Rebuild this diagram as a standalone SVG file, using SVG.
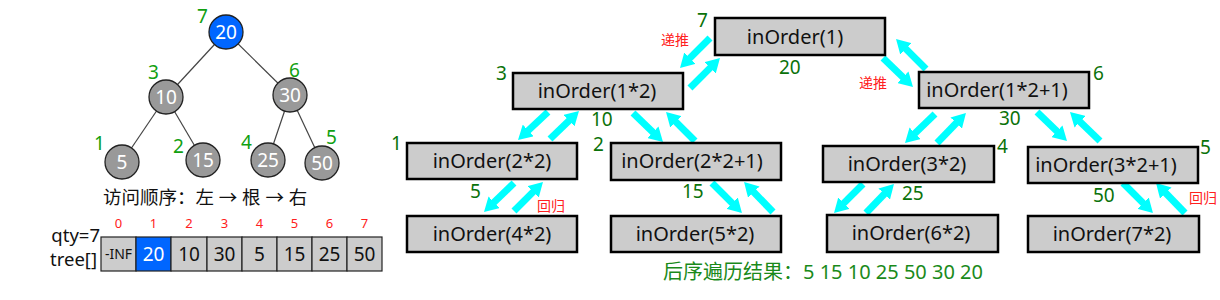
<svg xmlns="http://www.w3.org/2000/svg" width="1220" height="300" viewBox="0 0 1220 300">
<style>
text{font-family:"Noto Sans","Noto Sans CJK SC",sans-serif}
.edge{stroke:#444;stroke-width:1.2}
.cn{fill:#999;stroke:#222;stroke-width:1.3}
.ct{fill:#fff;font-size:19px;text-anchor:middle}
.lg{fill:#11a011;font-size:19px}
.dg{fill:#0a720a;font-size:19px}
.red{fill:#ff2020;font-size:14px}
.box{fill:#ccc;stroke:#000;stroke-width:2.5}
.bt{fill:#111;font-size:20px;text-anchor:middle}
.cell{fill:#ccc;stroke:#222;stroke-width:1.2}
.cv{fill:#111;font-size:19px;text-anchor:middle}
.idx{fill:#ff2020;font-size:13px;text-anchor:middle}
.arr{stroke:#00ffff;stroke-width:7;marker-end:url(#ah)}
</style>
<defs>
<marker id="ah" markerUnits="userSpaceOnUse" viewBox="0 0 14 16" markerWidth="14" markerHeight="16" refX="4" refY="8" orient="auto">
<path d="M0,0 L14,8 L0,16 z" fill="#00ffff"/>
</marker>
</defs>
<g id="tree-edges">
<line class="edge" x1="226" y1="32" x2="166" y2="97"/>
<line class="edge" x1="226" y1="32" x2="290" y2="95"/>
<line class="edge" x1="166" y1="97" x2="122" y2="162"/>
<line class="edge" x1="166" y1="97" x2="203" y2="160"/>
<line class="edge" x1="290" y1="95" x2="268" y2="160"/>
<line class="edge" x1="290" y1="95" x2="322" y2="163"/>
</g>
<g id="t20"><circle cx="226" cy="32" r="17" fill="#0066ff" stroke="#222" stroke-width="1.3"/><text class="ct" x="226" y="39">20</text><text class="lg" x="197" y="23">7</text></g>
<g id="t10"><circle class="cn" cx="166" cy="97" r="17"/><text class="ct" x="166" y="104">10</text><text class="lg" x="148" y="79">3</text></g>
<g id="t30"><circle class="cn" cx="290" cy="95" r="17"/><text class="ct" x="290" y="102">30</text><text class="lg" x="289" y="77">6</text></g>
<g id="t5"><circle class="cn" cx="122" cy="162" r="17"/><text class="ct" x="122" y="169">5</text><text class="lg" x="94" y="150">1</text></g>
<g id="t15"><circle class="cn" cx="203" cy="160" r="17"/><text class="ct" x="203" y="167">15</text><text class="lg" x="173" y="153">2</text></g>
<g id="t25"><circle class="cn" cx="268" cy="160" r="17"/><text class="ct" x="268" y="167">25</text><text class="lg" x="241" y="149">4</text></g>
<g id="t50"><circle class="cn" cx="322" cy="163" r="17"/><text class="ct" x="322" y="170">50</text><text class="lg" x="326" y="144">5</text></g>
<text x="103" y="204" style="font-size:18.5px;fill:#111">访问顺序：左 → 根 → 右</text>
<g id="array">
<text x="100" y="242" style="font-size:18.5px;fill:#111;text-anchor:end">qty=7</text>
<text x="97" y="266" style="font-size:18.5px;fill:#111;text-anchor:end">tree[]</text>
<rect class="cell" x="101" y="237" width="35" height="34"/>
<rect x="136" y="237" width="35" height="34" fill="#0066ff" stroke="#222" stroke-width="1.2"/>
<rect class="cell" x="171" y="237" width="36" height="34"/>
<rect class="cell" x="207" y="237" width="35" height="34"/>
<rect class="cell" x="242" y="237" width="35" height="34"/>
<rect class="cell" x="277" y="237" width="35" height="34"/>
<rect class="cell" x="312" y="237" width="35" height="34"/>
<rect class="cell" x="347" y="237" width="35" height="34"/>
<text x="118.5" y="259" style="font-size:14px;fill:#111;text-anchor:middle">-INF</text>
<text class="cv" x="153.5" y="261" style="fill:#fff">20</text>
<text class="cv" x="189" y="261">10</text>
<text class="cv" x="224.5" y="261">30</text>
<text class="cv" x="259.5" y="261">5</text>
<text class="cv" x="294.5" y="261">15</text>
<text class="cv" x="329.5" y="261">25</text>
<text class="cv" x="364.5" y="261">50</text>
<text class="idx" x="118.5" y="228">0</text>
<text class="idx" x="153.5" y="228">1</text>
<text class="idx" x="189" y="228">2</text>
<text class="idx" x="224.5" y="228">3</text>
<text class="idx" x="259.5" y="228">4</text>
<text class="idx" x="294.5" y="228">5</text>
<text class="idx" x="329.5" y="228">6</text>
<text class="idx" x="364.5" y="228">7</text>
</g>
<g id="connectors">
<line class="arr" x1="710" y1="38" x2="687.1" y2="60.9"/>
<line class="arr" x1="690" y1="88" x2="712.9" y2="65.1"/>
<line class="arr" x1="883" y1="58" x2="905.8" y2="80"/>
<line class="arr" x1="926" y1="69" x2="903.1" y2="46.1"/>
<line class="arr" x1="548" y1="112" x2="525.3" y2="133.2"/>
<line class="arr" x1="550" y1="139" x2="571.8" y2="117.9"/>
<line class="arr" x1="633" y1="113" x2="655.8" y2="135"/>
<line class="arr" x1="695" y1="141" x2="673.1" y2="119.1"/>
<line class="arr" x1="935" y1="114" x2="912.2" y2="136"/>
<line class="arr" x1="937" y1="143" x2="959" y2="120.2"/>
<line class="arr" x1="1037" y1="112" x2="1059.8" y2="134"/>
<line class="arr" x1="1100" y1="141" x2="1077.2" y2="119"/>
<line class="arr" x1="514" y1="183" x2="491.2" y2="205"/>
<line class="arr" x1="514" y1="211" x2="535.9" y2="189.1"/>
<line class="arr" x1="712" y1="183" x2="734.9" y2="205.9"/>
<line class="arr" x1="773" y1="212" x2="751" y2="189.2"/>
<line class="arr" x1="863" y1="184" x2="841.1" y2="205.9"/>
<line class="arr" x1="866" y1="213" x2="887" y2="191.2"/>
<line class="arr" x1="1123" y1="183" x2="1145.9" y2="205.9"/>
<line class="arr" x1="1185" y1="213" x2="1163" y2="190.2"/>
</g>
<g id="n1"><rect class="box" x="715" y="18" width="170" height="37"/><text class="bt" x="795" y="43.5">inOrder(1)</text><text class="dg" x="697" y="27">7</text><text class="dg" x="779" y="74">20</text></g>
<g id="n2"><rect class="box" x="513" y="73" width="170" height="36"/><text class="bt" x="597" y="98">inOrder(1*2)</text><text class="dg" x="496" y="80">3</text><text class="dg" x="591" y="126">10</text></g>
<g id="n3"><rect class="box" x="919" y="72" width="170" height="36"/><text class="bt" x="997" y="97">inOrder(1*2+1)</text><text class="dg" x="1093" y="80">6</text><text class="dg" x="999" y="125">30</text></g>
<g id="n4"><rect class="box" x="407" y="143" width="170" height="36"/><text class="bt" x="492" y="167.5">inOrder(2*2)</text><text class="dg" x="391" y="150">1</text><text class="dg" x="470" y="198">5</text></g>
<g id="n5"><rect class="box" x="611" y="143" width="170" height="37"/><text class="bt" x="692" y="167.5">inOrder(2*2+1)</text><text class="dg" x="593" y="151">2</text><text class="dg" x="682" y="198">15</text></g>
<g id="n6"><rect class="box" x="823" y="146" width="171" height="36"/><text class="bt" x="907" y="170.5">inOrder(3*2)</text><text class="dg" x="997" y="153">4</text><text class="dg" x="902" y="200">25</text></g>
<g id="n7"><rect class="box" x="1028" y="147" width="170" height="36"/><text class="bt" x="1106" y="171.5">inOrder(3*2+1)</text><text class="dg" x="1200" y="154">5</text><text class="dg" x="1093" y="202">50</text></g>
<g id="n8"><rect class="box" x="407" y="216" width="170" height="36"/><text class="bt" x="492" y="240.5">inOrder(4*2)</text></g>
<g id="n9"><rect class="box" x="611" y="216" width="170" height="36"/><text class="bt" x="695" y="240.5">inOrder(5*2)</text></g>
<g id="n10"><rect class="box" x="827" y="215" width="171" height="37"/><text class="bt" x="911" y="240">inOrder(6*2)</text></g>
<g id="n11"><rect class="box" x="1028" y="216" width="171" height="36"/><text class="bt" x="1112" y="240.5">inOrder(7*2)</text></g>
<text class="red" x="661" y="45">递推</text>
<text class="red" x="859" y="88">递推</text>
<text class="red" x="537" y="211">回归</text>
<text class="red" x="1189" y="203">回归</text>
<text x="663" y="279" style="font-size:20px;fill:#1a8a1a">后序遍历结果：5 15 10 25 50 30 20</text>
</svg>
